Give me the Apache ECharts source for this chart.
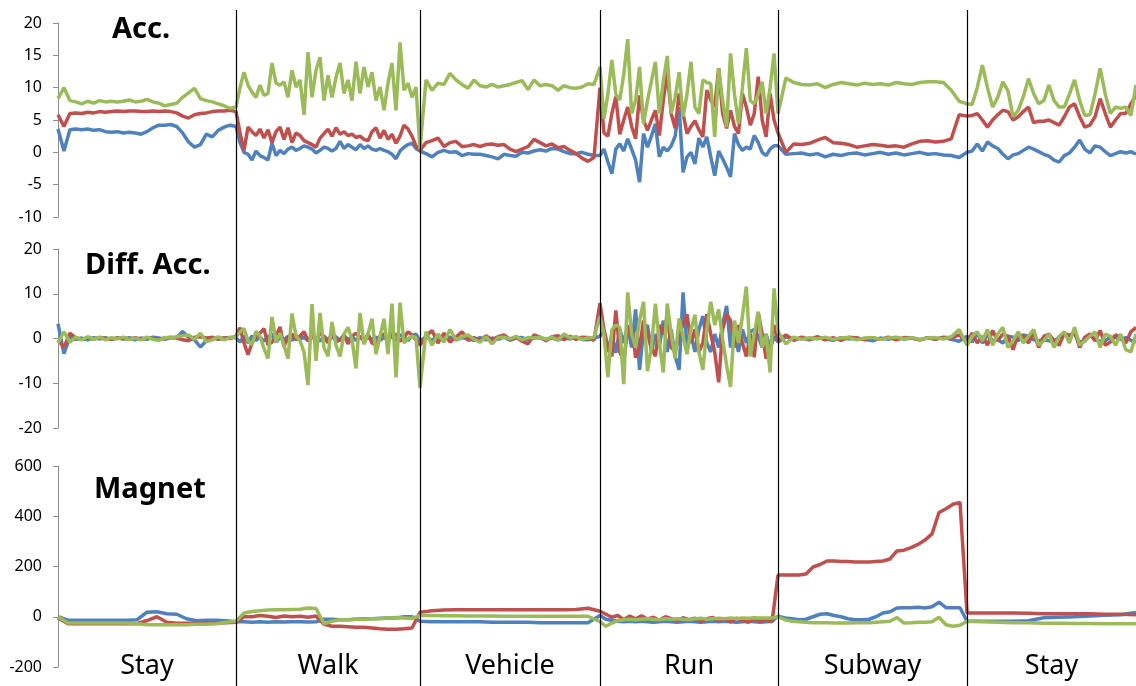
<!DOCTYPE html>
<html>
<head>
<meta charset="utf-8">
<script src="https://cdn.jsdelivr.net/npm/echarts@6/dist/echarts.min.js"></script>
<style>
  html, body { margin: 0; padding: 0; background: #fff; }
  #main { width: 1136px; height: 686px; }
</style>
</head>
<body>
<div id="main"></div>
<script>
var myChart = echarts.init(document.getElementById("main"));

// activity segments, time in samples (the last one runs past the plot)
const segNames = ["Stay", "Walk", "Vehicle", "Run", "Subway", "Stay"];
const segEdges = [0, 178, 362, 542, 720, 909, 1106];
const xMax = 1078;

// Acc. (one inner array per segment)
const accBlue = [
  [3.6, 0.2, 3.5, 3.6, 3.5, 3.6, 3.4, 3.5, 3.2, 3.1, 3.2, 3.0, 3.1, 3.0, 2.8, 3.2, 3.8, 4.2, 4.2, 4.3, 4.0, 3.0, 1.6, 0.8, 1.2, 2.8, 2.4, 3.4, 3.9, 4.2],
  [4.0, 1.5, 0, -0.3, -1.2, 0.2, -0.5, -0.8, -1.2, 1.4, -0.5, 0.3, -0.2, 0.5, 0.8, 0.3, 0.6, 1.0, 0.8, 0.5, -0.1, 0.3, 0.8, 0.6, 0.2, 0.6, 1.7, 0.6, 1.2, 0.8, 0.4, 1.2, 0.6, 1.0, 0.5, 0.3, 0.6, 0.3, 0.1, -0.3, -1.0, 0.2, 0.8, 1.2, 1.4, 0.6],
  [0.2, -0.2, -0.7, 0, 0.3, 0, 0.1, -0.5, -0.2, -0.3, -0.3, -0.5, -0.7, -1.0, -0.3, -0.5, -0.6, 0, -0.1, 0.2, 0.4, 0.2, 0.6, 0.5, 0.1, -0.2, -0.2, 0, -0.3, -0.5],
  [-0.5, 0.5, -1.5, -3.3, 0.5, 1.3, 0.2, 2.1, 0.5, -1.2, -4.6, 2.9, 0.8, 2.5, 4.4, -0.7, 0.8, 0.2, 1.0, 2.5, 7, -3.1, -0.7, 0, -1.8, 2.2, 0.8, 2.4, -0.7, -3.6, 0.2, -1, -2.3, -3.8, 2.9, 1.2, 0.3, 0.8, 0.5, 2.6, 1.5, 0, -0.5, 0.5, 1.0],
  [1.0, -0.3, -0.2, -0.1, -0.4, -0.2, -0.7, -0.3, -0.5, -0.2, -0.1, -0.4, -0.2, 0, -0.3, -0.1, -0.4, -0.2, 0, -0.3, -0.2, -0.4, -0.5, -0.8],
  [0, 0.2, 1.3, 0.2, 1.6, 1.0, 0.6, -0.3, -1, -0.4, -0.2, 0.3, 0.8, 0.5, 0.1, -0.3, -0.6, -1.2, -1.5, -0.5, -0.1, 0.8, 1.9, 0.5, -0.1, 1.0, 0.8, 0.1, -0.5, -0.2, 0.1, -0.1, 0.1, -0.3]
];
const accRed = [
  [5.8, 4, 6, 6.1, 6, 6.2, 6.1, 6.3, 6.2, 6.3, 6.4, 6.3, 6.4, 6.4, 6.3, 6.3, 6.4, 6.3, 6.4, 6.3, 6.1, 5.6, 5.3, 5.8, 6, 6.1, 6.3, 6.4, 6.4, 6.5],
  [6.3, 3, 0.3, 3.9, 3.2, 2.6, 3.6, 2.2, 3.5, 1.5, 3.2, 3.9, 2.0, 3.8, 1.5, 3.0, 2.6, 1.8, 1.5, 1.2, 0.8, 2.2, 2.9, 3.6, 2.5, 3.8, 2.8, 3.2, 2.6, 2.8, 2.3, 2.5, 2.0, 1.8, 3.2, 3.8, 2.2, 3.4, 2.0, 2.8, 1.4, 2.5, 4.2, 3.6, 2.5, 1.0],
  [0.3, 1.5, 1.8, 2.2, 0.9, 1.5, 1.7, 0.9, 1.0, 1.2, 0.9, 1.2, 1.3, 1.1, 1.2, 0.5, 0.1, 0.5, 0.9, 2.0, 1.5, 1.0, 1.3, 0.7, 0.9, 0.3, -0.2, -0.9, -1.4, -0.8],
  [10, 3, 2.5, 6, 8.6, 2.8, 5, 7, 4, 2.1, 8.8, 5, 3.4, 5, 6.5, 2.6, 8, 12.4, 6, 3.7, 9.1, 6, 2.9, 4, 4.9, 3.5, 2.4, 9.6, 8.1, 7, 13, 6, 3.7, 6.5, 4, 2.9, 9.1, 7, 4.2, 6, 11.7, 5, 2.4, 9.1, 5],
  [3, 0, 1.3, 1.2, 1.4, 1.9, 2.3, 1.5, 1.4, 1.2, 0.8, 1.0, 1.2, 1.1, 0.9, 1.0, 0.8, 1.3, 1.7, 1.8, 1.6, 1.7, 2.1, 5.8],
  [5.6, 5.7, 6, 5, 3.9, 5, 5.8, 6.5, 6.3, 5, 5.5, 6.3, 7, 4.6, 4.8, 4.8, 5, 4.6, 4.2, 5.5, 7, 7.5, 5.5, 3.9, 4.2, 5.5, 8.3, 6, 3.9, 5, 6, 6, 7.5, 8.8]
];
const accGreen = [
  [8.3, 10, 8, 7.8, 7.5, 7.9, 7.6, 8, 7.8, 7.9, 7.8, 7.9, 8.1, 7.8, 7.9, 8.2, 7.8, 7.6, 7.2, 7.4, 7.6, 8.5, 9.2, 9.9, 8.3, 8, 7.8, 7.5, 7.2, 6.8],
  [7.0, 10, 12.4, 10.4, 9.3, 8.5, 10.4, 8.8, 9.1, 13.8, 10.7, 10.4, 10.9, 8.5, 12.7, 10.1, 11.2, 5.8, 15.5, 8.5, 12.7, 14.7, 8, 11.9, 8.5, 11.6, 13.8, 9.1, 11.2, 8, 14, 9.1, 13.2, 10.1, 12.4, 8, 10.1, 6.5, 10.7, 13.8, 6.5, 17, 9.6, 10.7, 8.5, 10.1],
  [0.5, 11.2, 9.6, 10.7, 10.5, 12.2, 11.2, 10.5, 9.9, 11.2, 10.3, 10.1, 10.5, 10.1, 10.3, 10.5, 10.8, 11.1, 9.7, 11.2, 10.3, 10.5, 10.3, 9.6, 10.3, 10, 9.9, 10.1, 10.6, 10.5],
  [13.2, 5.2, 9, 14.3, 9, 8.1, 12, 17.5, 6, 8, 13.2, 4.4, 8, 11, 14, 6, 11, 14.9, 6, 8.5, 12.4, 5.5, 9, 14, 7, 6, 11.2, 10.8, 10.6, 2.4, 13, 8, 3.9, 15.3, 9, 4.4, 10, 16.1, 8, 7.5, 9, 10.9, 6, 10, 15.3],
  [6, 11.5, 10.8, 10.5, 10.4, 10.6, 10.0, 10.5, 10.8, 10.6, 10.4, 10.7, 10.5, 10.6, 10.4, 10.8, 10.6, 10.5, 10.8, 10.9, 10.9, 10.8, 9.6, 7.9],
  [7.5, 7.4, 10, 13.5, 10, 7, 8.5, 10.9, 9.5, 5.5, 6.5, 8.6, 11.4, 9.1, 7.5, 8, 10.4, 8, 7, 7, 9, 11.2, 8, 5.7, 5.8, 9, 13, 9, 6, 7, 6.8, 7, 5.7, 10.4]
];

// Diff. Acc.
const diffBlue = [
  [3.3, -3.4, 0.3, -0.2, 0.1, -0.3, 0.2, -0.1, 0.2, -0.2, 0.1, -0.1, 0.2, -0.3, 0.1, -0.2, 0.3, 0.1, -0.2, 0.1, 0.2, 1.6, 0.2, -0.3, -1.9, -0.5, 0.3, -0.2, 0.1, 0.2],
  [0.2, -0.8, 0.5, -1.0, 0.6, -0.4, 0.3, -0.6, 0.4, 1.0, -0.8, 0.2, -0.3, 0.5, -0.4, 0.6, -0.2, 0.3, -0.5, 0.4, 0.2, -0.6, 0.5, -0.3, 0.2, 0.4, -0.5, 0.6, -0.2, 0.3, -0.4, 0.5, -0.3, 0.2, -0.2, 0.3, -0.4, 0.2, -0.3, 0.5, -0.6, 0.8, 0.4, -0.5, 0.6, 1.0],
  [-0.5, 0.3, -0.4, 0.5, -0.2, 0.3, -0.3, 0.2, -0.1, -0.4, 0.2, -0.3, 0.1, -0.2, 0.3, -0.4, 0.1, 0.2, -0.3, 0.1, 0.2, -0.2, 0.1, -0.3, 0.2, -0.1, 0.3, -0.2, -0.3, 0.1],
  [0.5, 2, -3, 1, -3.2, 2, -1, 3, -2, 6.5, -7, 2, 3, -3, 1, -2, 4, -3, 2, -4, -7, 10.3, -2, 1, -3, 2, 5, -1, -3, 1, -2, 3, 7.3, -2, 1, -3, 2, -1, 1.5, 2, 0.5, -2, 1, -2.5, 0.5],
  [-0.8, 0.4, -0.2, 0.1, -0.3, 0.2, -0.1, -0.4, 0.2, -0.1, 0.1, -0.2, -0.5, 0.1, -0.2, 0.2, -0.1, 0.1, -0.3, 0.1, -0.1, 0.2, -0.2, -0.6],
  [0.5, -0.8, 1.2, -1, 0.8, -0.5, -0.3, -1, 0.5, 0.3, -0.5, 0.8, 0.5, -0.3, -0.5, -0.3, -0.5, -0.6, 0.3, 1, 0.8, 1, -0.8, -0.6, 1, -0.3, -0.6, -0.5, 0.3, 0.2, -0.2, 0.2, -0.4, -0.8]
];
const diffRed = [
  [-0.3, -2, 1.2, 0.1, -0.2, 0.1, -0.1, 0.2, 0, -0.2, 0.1, 0, -0.1, 0.2, -0.1, 0.1, 0, -0.2, 0.1, 0.3, 0.1, -0.3, -0.5, 0.3, 0.4, 0.1, 0.2, -0.1, 0.1, 0],
  [0.5, 2.4, -1, -3.6, -1, 0.5, 1.2, 2.2, -1.5, -0.8, 0.5, 2.6, -1.8, 0.3, 1, -0.3, 0.5, 1.5, -0.5, 0.8, -0.8, 1.2, 0.5, -1, 1.5, -0.8, -0.3, 0.8, -1.2, 0.5, 1.2, 0.3, -0.5, 1.0, -1.0, -1.5, 0.5, 1.0, -0.5, 1.2, 0.8, -0.6, 0.2, 1.5, 0.8, -0.3],
  [-1.5, 0.5, 1.8, -1, 1.2, -0.8, 0.3, 1.5, -0.4, 0.2, -0.5, 0.6, -0.3, 0.4, 0.8, -0.2, 0.3, -0.6, -1.2, 0.8, 0.3, -0.5, 0.4, 0.6, -0.3, 0.5, -0.2, 0.3, 0.2, -0.4],
  [7.9, 2, -2, -4, 6.3, -3, -5, 2, 3, -4.3, -2, 4, 1, -2, -4, 3, 1, 5, -2, -3, 1, 3, 5.4, -1, 2, -3, -1, 5.4, 1, -3, -9.8, 2, 5.5, 4, -2, 3, -1, -4, 1, -4.2, 5.8, 1, -4.5, -2, 3],
  [-0.5, 0.8, -0.4, 0.3, -0.2, 0.4, -0.3, 0.2, -0.4, 0.3, 0.1, -0.3, 0.2, -0.2, 0.3, -0.3, 0.2, 0.1, -0.3, 0.2, -0.2, 0.3, 0.1, 0.8],
  [-0.8, 1.2, -1, 0.5, -1.5, 1.8, -0.5, 1, 0.5, -2.5, 1, 0.5, -1, 1.5, -2, 0.5, 1, -0.5, -1.5, 1.2, 0.5, 1.5, -2, 0.3, 1, -0.5, 1.8, -1.5, -0.8, 0.8, 0.3, -1, 1.5, 2.5]
];
const diffGreen = [
  [-1, 1.5, -0.8, 0.3, -0.3, 0.4, -0.2, 0.3, -0.3, 0.2, -0.1, 0.3, -0.2, 0.1, -0.3, 0.3, -0.2, -0.4, 0.2, 0.1, 0.4, 0.6, 0.8, -0.2, 1.2, -0.7, -0.3, 0.4, -0.3, 0.2],
  [0.3, 1.5, 2.2, -0.5, -1.4, 1.6, 0.5, -2.2, -4.5, 4.8, -0.8, 1.2, -1.5, -4.5, 5.6, 0.5, -0.5, -3, -10.4, 7.7, -5, 5.7, -2, -4, 3.7, -1.5, -4, 1, 2.5, -0.3, -6.7, 5.7, -1.3, 1, 4.4, -3.5, 0.5, 4.4, -3.5, 7.8, -8.7, 8.0, -1, 0, 0.5, 0.2],
  [-11, 1.5, -1.5, 1.0, -0.8, 2.0, -0.3, 0.4, 0.8, -0.2, -0.8, 0.4, -1.2, 0.2, 0.3, -0.1, 0.5, -0.3, 0.2, 0.1, 0.3, -0.2, 0.3, -0.4, 1.0, 0.1, 0.4, -0.2, 0.1, 0.3],
  [4.9, 1, -8.7, 2, 3, 2.5, -10.2, 10.3, 1, -2, 4, 8.2, -7.3, -2, 7.8, -1, -7.6, 7.8, 1, -4.5, 4.5, 0.5, -3.5, 2, 5.3, -3, -7, 2, 8.2, 3, 6.5, 0, -6, -10.8, 4, -1, 5, 11.6, -4, 1, 6, -2, 1, -7.6, 11.2],
  [1.5, -1.2, 0.3, -0.2, 0.2, -0.1, 0.3, -0.2, 0.1, 0.2, -0.3, 0.1, 0.2, -0.2, 0.1, 0.3, -0.1, 0.2, -0.2, 0.1, 0.2, -0.1, 0.4, 2],
  [-1.5, 0.5, 1.5, -0.5, 2, -1.5, 1, 2.5, -2, -0.5, 1.5, -1, 0.5, 2, -1.5, -0.5, 1, -2, 0.5, 1.5, -1, 2.5, -1.5, -0.5, 0.5, 1.5, -2, 1, 0.5, -1.5, 1, -2.5, -3, 1]
];

// Magnet
const magBlue = [
  [0, -14, -14, -14, -14, -14, -14, -14, -12, 18, 20, 12, 10, -8, -16, -14, -14, -16],
  [-20, -20, -22, -20, -22, -20, -21, -20, -20, -21, -20, -10, -10, -12, -12, -10, -8, -8, -6, -5, -5, 0, 0],
  [-18, -20, -20, -20, -20, -20, -22, -22, -22, -22, -24, -24, -24, -24, -24],
  [5, -10, -15, -18, -20, -18, -20, -18, -20, -22, -20, -18, -20, -22, -20, -18, -20, -22, -20, -18, -20, -18, -20, -22, -20, -18, -20, -22, -20, -18],
  [2, -5, -8, -12, -10, 0, 10, 12, 5, 0, -8, -12, -12, -10, 0, 15, 20, 35, 36, 36, 38, 35, 40, 58, 36, 36, 36],
  [-18, -18, -18, -18, -16, -4, -2, 0, 3, 6, 8, 17]
];
const magRed = [
  [-5, -28, -28, -28, -28, -28, -28, -28, -28, -15, 0, -22, -26, -26, -26, -26, -26, -24],
  [-22, 0, 0, 5, 2, -3, 3, 0, 2, -2, 3, -30, -38, -38, -40, -42, -42, -45, -48, -50, -50, -48, -45],
  [18, 24, 27, 28, 28, 28, 28, 28, 28, 28, 28, 28, 28, 29, 34],
  [22, 10, -2, 5, -12, 3, -8, 4, -10, -2, -14, 0, -8, -16, -4, -12, -6, -18, -8, -3, -15, -10, -20, -6, -14, -22, -10, -18, -12, -20],
  [166, 166, 166, 166, 170, 198, 208, 222, 222, 220, 220, 218, 218, 218, 220, 222, 230, 262, 265, 275, 288, 305, 330, 415, 430, 448, 455],
  [15, 15, 15, 15, 14, 12, 12, 12, 12, 10, 10, 8]
];
const magGreen = [
  [0, -25, -25, -25, -25, -25, -25, -25, -28, -32, -32, -32, -32, -32, -30, -30, -28, -22],
  [-18, 15, 21, 24, 27, 28, 28, 29, 30, 35, 33, -28, -18, -12, -12, -10, -10, -8, -8, -5, -3, -5, -7],
  [5, 5, 4, 4, 3, 3, 3, 2, 2, 2, 2, 2, 2, 2, 2],
  [-20, -38, -25, -15, -12, -10, -12, -10, -8, -10, -12, -8, -10, -8, -10, -12, -8, -6, -10, -8, -6, -8, -5, -8, -5, -6, -4, -5, -5, -5],
  [0, -12, -18, -20, -22, -24, -24, -24, -25, -25, -25, -24, -24, -24, -22, -20, -18, -3, -25, -24, -22, -22, -20, -2, -32, -38, -34],
  [-18, -20, -22, -24, -24, -26, -26, -27, -27, -28, -28, -28]
];

const panelTitles = ["Acc.", "Diff. Acc.", "Magnet"];
const yMin = [-10, -20, -200];
const yMax = [20, 20, 600];
const yStep = [5, 10, 200];

const colors = ["#4f81bd", "#c0504d", "#9bbb59"];
const font = "Noto Sans";

// samples are spread evenly inside each segment
function toPoints(segs) {
  const pts = [];
  segs.forEach((vals, s) => {
    const last = s === segs.length - 1;
    const x0 = segEdges[s];
    const x1 = last ? xMax : segEdges[s + 1];
    const step = (x1 - x0) / (last ? vals.length - 1 : vals.length);
    vals.forEach((v, i) => pts.push([x0 + i * step, v]));
  });
  return pts;
}

const panels = [
  [accBlue, accRed, accGreen],
  [diffBlue, diffRed, diffGreen],
  [magBlue, magRed, magGreen],
];

const grids = [
  { left: 58, right: 0, top: 23, height: 194 },
  { left: 58, right: 0, top: 249, height: 179 },
  { left: 58, right: 0, top: 466, height: 201 },
  { left: 58, right: 0, top: 10, bottom: 0 },
];

const xAxes = grids.map((g, i) => ({
  type: "value", gridIndex: i, min: 0, max: xMax, show: false,
}));

const yAxes = [0, 1, 2].map((i) => ({
  type: "value", gridIndex: i,
  min: yMin[i], max: yMax[i], interval: yStep[i],
  axisLine: { show: true, lineStyle: { color: "#8c8c8c", width: 1 } },
  axisTick: { show: true, length: 5, lineStyle: { color: "#8c8c8c" } },
  splitLine: { show: false },
  axisLabel: { color: "#000", fontSize: 16, fontFamily: font, margin: 16 },
}));
yAxes.push({ type: "value", gridIndex: 3, min: 0, max: 1, show: false });

const series = [];
panels.forEach((p, pi) => {
  p.forEach((segs, ci) => {
    series.push({
      type: "line",
      xAxisIndex: pi,
      yAxisIndex: pi,
      data: toPoints(segs),
      symbol: "none",
      lineStyle: { color: colors[ci], width: 3.5 },
      itemStyle: { color: colors[ci] },
    });
  });
});

// segment separators and names
series.push({
  type: "line",
  xAxisIndex: 3,
  yAxisIndex: 3,
  data: [],
  symbol: "none",
  markLine: {
    silent: true,
    symbol: ["none", "none"],
    label: { show: false },
    lineStyle: { color: "#000", width: 1.2, type: "solid" },
    data: segEdges.slice(1, -1).map((e) => ({ xAxis: e })),
  },
  markArea: {
    silent: true,
    itemStyle: { color: "rgba(0,0,0,0)" },
    label: {
      show: true, position: "insideBottom", distance: 6,
      color: "#000", fontSize: 27, fontFamily: font,
    },
    data: segNames.map((n, i) => [
      { name: n, xAxis: segEdges[i] },
      { xAxis: segEdges[i + 1] },
    ]),
  },
});

option = {
  animation: false,
  backgroundColor: "#fff",
  title: [
    { text: panelTitles[0], left: 112, top: 15 },
    { text: panelTitles[1], left: 85, top: 251 },
    { text: panelTitles[2], left: 94, top: 475 },
  ].map((t) => Object.assign(t, {
    padding: 0,
    textStyle: { fontSize: 29, fontWeight: "bold", color: "#000", fontFamily: font },
  })),
  grid: grids,
  xAxis: xAxes,
  yAxis: yAxes,
  series: series,
};
myChart.setOption(option);
</script>
</body>
</html>
